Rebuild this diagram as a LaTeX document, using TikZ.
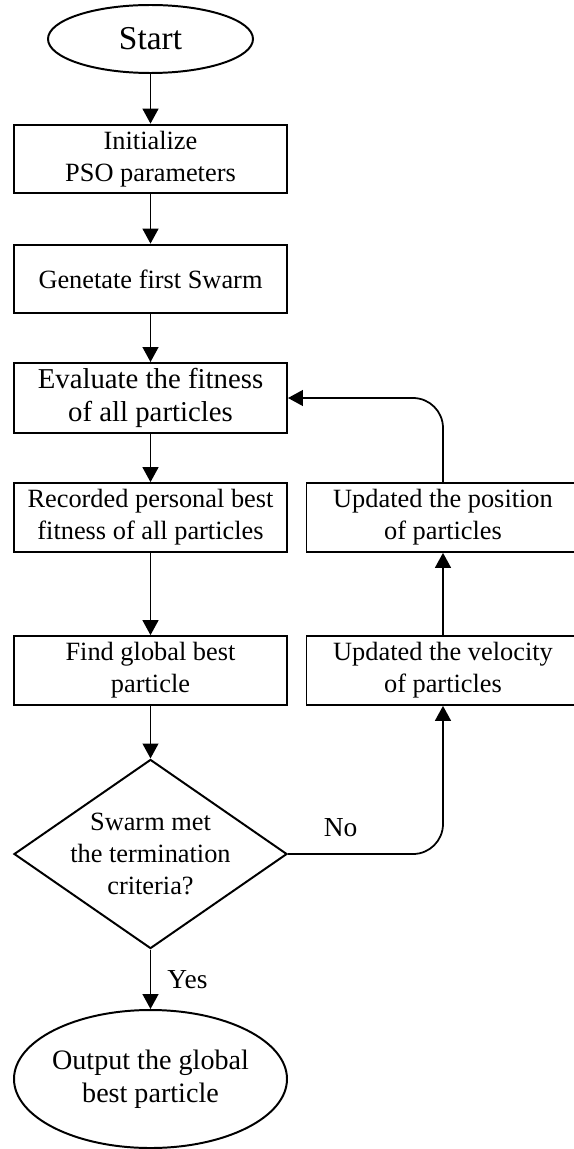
\documentclass[tikz,border=0pt]{standalone}
\usepackage{fontspec}
\setmainfont{Liberation Serif}
\usetikzlibrary{shapes.geometric,arrows.meta}

\begin{document}
\begin{tikzpicture}[
        block/.style={rectangle, draw, line width=0.9pt, minimum width=4.368cm, minimum height=1.1cm, align=center, inner sep=1pt, font=\fontsize{12}{14.5}\selectfont},
        term/.style={ellipse, draw, line width=0.9pt, align=center, inner sep=-2pt},
        decision/.style={diamond, draw, line width=0.9pt, minimum width=4.368cm, minimum height=2.752cm, inner sep=-6pt, align=center, font=\fontsize{12}{14.5}\selectfont},
        line/.style={draw, line width=0.8pt, -{Triangle[length=6.8pt, width=7.2pt]}},
        lbl/.style={font=\fontsize{12.5}{15}\selectfont}
    ]
        \useasboundingbox (0,0) rectangle (9.184,-18.384);

        \node[term, minimum width=3.28cm, minimum height=1.088cm, font=\fontsize{15.2}{18}\selectfont] (start) at (2.408,-0.624) {Start};
        \node[block] (init) at (2.408,-2.544) {Initialize\\PSO parameters};
        \node[block] (swarm) at (2.408,-4.464) {Genetate first Swarm};
        \node[block, minimum height=1.12cm, font=\fontsize{13.1}{15}\selectfont] (eval) at (2.408,-6.368) {Evaluate the fitness\\of all particles};
        \node[block] (pbest) at (2.408,-8.28) {Recorded personal best\\fitness of all particles};
        \node[block] (gbest) at (2.408,-10.728) {Find global best\\particle};
        \node[decision] (check) at (2.408,-13.664) {Swarm met\\the termination\\criteria?};
        \node[term, minimum width=4.368cm, minimum height=2.208cm, font=\fontsize{12.8}{15}\selectfont] (output) at (2.408,-17.264) {Output the global\\best particle};

        \node[block] (position) at (7.088,-8.28) {Updated the position\\of particles};
        \node[block] (velocity) at (7.088,-10.728) {Updated the velocity\\of particles};

        \draw[line] (start) -- (init);
        \draw[line] (init) -- (swarm);
        \draw[line] (swarm) -- (eval);
        \draw[line] (eval) -- (pbest);
        \draw[line] (pbest) -- (gbest);
        \draw[line] (gbest) -- (check);
        \draw[line] (check) -- node[lbl, right=4pt] (yes) {Yes} (output);

        \draw[line, rounded corners=0.48cm] (check.east) -| node[lbl, pos=0.17, above=4pt] (no) {No} (velocity.south);
        \draw[line] (velocity) -- (position);
        \draw[line, rounded corners=0.48cm] (position.north) |- (eval.east);
    \end{tikzpicture}
\end{document}
